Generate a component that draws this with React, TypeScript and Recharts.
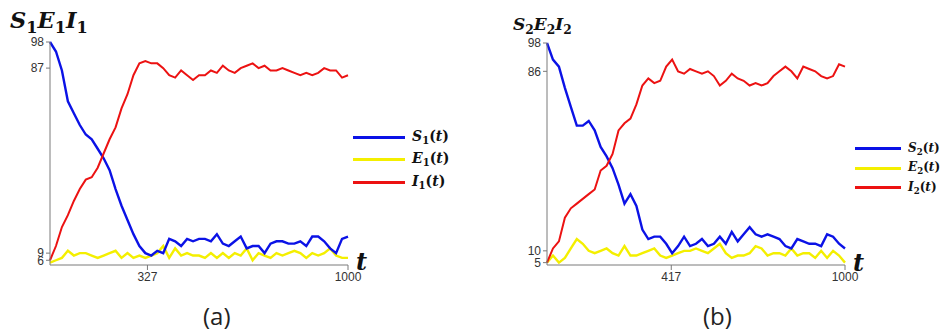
import { LineChart, Line, XAxis, YAxis } from "recharts";

// time grid, one sample every 20 steps
const TIME = Array.from({ length: 51 }, (_, k) => k * 20);

// panel (a)
const S1 = [
  98, 94, 86, 73, 68, 63, 59, 57, 53, 49, 44, 36, 29, 23, 17, 12, 9, 8, 10, 9, 15, 14, 12, 15, 14, 15,
  15, 14, 17, 13, 12, 14, 16, 11, 12, 12, 9, 13, 14, 14, 13, 13, 14, 12, 16, 16, 14, 11, 9, 15, 16,
];
const E1 = [
  5, 6, 7, 10, 8, 9, 9, 8, 7, 8, 9, 10, 7, 9, 7, 8, 7, 8, 9, 12, 7, 11, 8, 9, 8, 8, 7, 9, 7, 9, 7, 9,
  8, 11, 6, 9, 8, 7, 9, 8, 9, 10, 9, 7, 9, 8, 9, 11, 8, 7, 7,
];
const I1 = [
  6, 12, 20, 25, 31, 36, 40, 41, 45, 51, 57, 62, 70, 76, 84, 89, 90, 89, 89, 87, 84, 83, 86, 84, 82, 84,
  84, 86, 85, 88, 86, 85, 87, 88, 89, 87, 88, 86, 86, 87, 86, 85, 84, 85, 84, 85, 87, 86, 86, 83, 84,
];

// panel (b)
const S2 = [
  98, 91, 88, 79, 71, 63, 63, 65, 61, 54, 50, 45, 38, 30, 34, 29, 19, 15, 16, 16, 13, 9, 12, 16, 12, 13,
  15, 12, 13, 16, 13, 18, 14, 17, 20, 17, 16, 17, 16, 15, 12, 11, 15, 14, 13, 13, 12, 17, 16, 13, 11,
];
const E2 = [
  5, 8, 5, 7, 11, 15, 13, 10, 9, 10, 11, 9, 8, 12, 8, 8, 9, 10, 11, 8, 7, 8, 9, 10, 10, 11, 10, 9, 11,
  13, 9, 7, 8, 8, 9, 12, 11, 8, 9, 9, 8, 11, 8, 9, 9, 7, 10, 7, 10, 8, 5,
];
const I2 = [
  5, 11, 14, 24, 28, 30, 32, 34, 36, 44, 46, 51, 61, 64, 66, 72, 80, 83, 81, 82, 88, 91, 86, 85, 87, 86,
  85, 86, 84, 80, 82, 85, 83, 82, 80, 81, 80, 81, 84, 86, 88, 86, 83, 88, 87, 86, 84, 83, 84, 89, 88,
];

const X_TICKS_A = [327, 1000];
const Y_TICKS_A = [6, 9, 87, 98];
const X_TICKS_B = [417, 1000];
const Y_TICKS_B = [5, 10, 86, 98];

const COLORS = { s: "#0b12e6", e: "#f4ef00", i: "#ec1212" };
const AXIS = "#7a7a7a";
const MATH_FONT = "'DejaVu Serif', 'Liberation Serif', serif";
const tickStyle = { fontSize: 12, fill: "#333", fontFamily: "'Liberation Sans', Arial, sans-serif" };

const build = (s: number[], e: number[], i: number[]) =>
  TIME.map((t, k) => ({ t, s: s[k], e: e[k], i: i[k] }));

type PanelProps = {
  left: number;
  top: number;
  data: Array<Record<string, number>>;
  xTicks: number[];
  yTicks: number[];
};

const Panel = ({ left, top, data, xTicks, yTicks }: PanelProps) => (
  <div style={{ position: "absolute", left, top: 0 }}>
    <LineChart width={470} height={334} data={data} margin={{ top, right: 122, bottom: 39, left: 0 }}>
      <XAxis
        dataKey="t"
        type="number"
        domain={[0, 1000]}
        ticks={xTicks}
        interval={0}
        height={30}
        stroke={AXIS}
        tickSize={5}
        tick={tickStyle}
      />
      <YAxis
        type="number"
        domain={[4, 98]}
        ticks={yTicks}
        interval={0}
        width={50}
        stroke={AXIS}
        tickSize={4}
        tickMargin={2}
        tick={tickStyle}
      />
      <Line dataKey="e" stroke={COLORS.e} strokeWidth={2.4} dot={false} isAnimationActive={false} />
      <Line dataKey="s" stroke={COLORS.s} strokeWidth={2.4} dot={false} isAnimationActive={false} />
      <Line dataKey="i" stroke={COLORS.i} strokeWidth={2} dot={false} isAnimationActive={false} />
    </LineChart>
  </div>
);

const Sub = ({ n }: { n: string }) => (
  <sub style={{ fontStyle: "normal", fontSize: "0.72em", verticalAlign: "-0.3em" }}>{n}</sub>
);

type LegendProps = { left: number; top: number; gap: number; lineW: number; fontSize: number; n: string };

const LegendBox = ({ left, top, gap, lineW, fontSize, n }: LegendProps) => {
  const rows = [
    { key: "S", color: COLORS.s },
    { key: "E", color: COLORS.e },
    { key: "I", color: COLORS.i },
  ];
  return (
    <div style={{ position: "absolute", left, top, fontFamily: MATH_FONT, fontWeight: "bold", fontSize, color: "#111" }}>
      {rows.map((r) => (
        <div key={r.key} style={{ display: "flex", alignItems: "center", height: gap }}>
          <div style={{ width: lineW, height: 3, background: r.color, marginRight: 7 }} />
          <span style={{ lineHeight: 1, whiteSpace: "nowrap" }}>
            <i>{r.key}</i>
            <Sub n={n} />(<i>t</i>)
          </span>
        </div>
      ))}
    </div>
  );
};

const Title = ({ left, top, fontSize, n }: { left: number; top: number; fontSize: number; n: string }) => (
  <div style={{ position: "absolute", left, top, fontFamily: MATH_FONT, fontWeight: "bold", fontStyle: "italic", fontSize, lineHeight: 1, color: "#111" }}>
    S<Sub n={n} />E<Sub n={n} />I<Sub n={n} />
  </div>
);

const TLabel = ({ left, top }: { left: number; top: number }) => (
  <div style={{ position: "absolute", left, top, fontFamily: MATH_FONT, fontWeight: "bold", fontStyle: "italic", fontSize: 24, lineHeight: 1, color: "#111" }}>
    t
  </div>
);

const Caption = ({ left, text }: { left: number; text: string }) => (
  <div style={{ position: "absolute", left, top: 302, fontFamily: "'Open Sans', 'Noto Sans', sans-serif", fontSize: 24, lineHeight: 1.2, color: "#222" }}>
    {text}
  </div>
);

export default function App() {
  const dataA = build(S1, E1, I1);
  const dataB = build(S2, E2, I2);
  return (
    <div style={{ position: "absolute", left: 0, top: 0, width: 943, height: 334, background: "#fff", overflow: "hidden" }}>
      <Panel left={0} top={42} data={dataA} xTicks={X_TICKS_A} yTicks={Y_TICKS_A} />
      <Panel left={497} top={43} data={dataB} xTicks={X_TICKS_B} yTicks={Y_TICKS_B} />
      <Title left={10} top={9} fontSize={22.5} n="1" />
      <Title left={513} top={16} fontSize={17} n="2" />
      <LegendBox left={353} top={126} gap={22.5} lineW={52} fontSize={14} n="1" />
      <LegendBox left={855} top={139} gap={19.5} lineW={46} fontSize={12} n="2" />
      <TLabel left={356} top={250} />
      <TLabel left={853} top={251} />
      <Caption left={203} text="(a)" />
      <Caption left={703} text="(b)" />
    </div>
  );
}
